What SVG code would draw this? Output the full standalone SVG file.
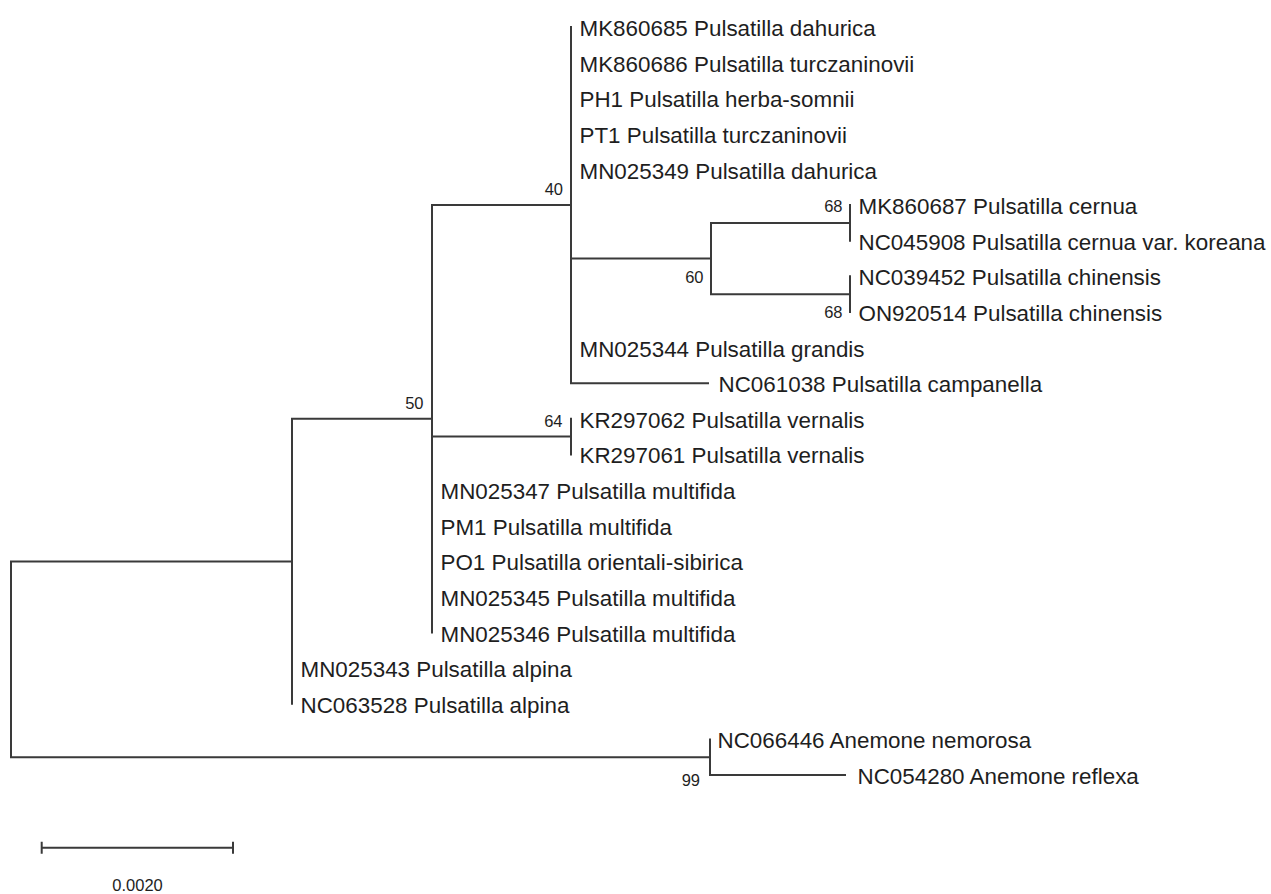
<svg xmlns="http://www.w3.org/2000/svg" width="1271" height="894" viewBox="0 0 1271 894">
<style>
  .br { fill: none; stroke: #3a3a3a; stroke-width: 2; stroke-linecap: square; }
  .lf { font-family: "Liberation Sans", Arial, sans-serif; font-size: 22.4px; fill: #1e1e1e; }
  .bs { font-family: "Liberation Sans", Arial, sans-serif; font-size: 16.5px; fill: #1e1e1e; text-anchor: end; }
  .sc { font-family: "Liberation Sans", Arial, sans-serif; font-size: 16.5px; fill: #1e1e1e; text-anchor: middle; }
</style>
<rect width="1271" height="894" fill="#ffffff"/>
<g id="connectors">
  <path class="br" d="M11,561.4 V757.2 M11,561.4 H292 M11,757.2 H710"/>
  <path class="br" d="M292,418.8 V703.8 M292,418.8 H432"/>
  <path class="br" d="M432,205.1 V632.5 M432,205.1 H571 M432,436.6 H571"/>
  <path class="br" d="M571,27 V383.2 M571,258.5 H711 M571,383.2 H708"/>
  <path class="br" d="M711,223 V294.2 M711,223 H850 M711,294.2 H850"/>
  <path class="br" d="M850,205.1 V240.7"/>
  <path class="br" d="M850,276.3 V312"/>
  <path class="br" d="M571,418.8 V454.4"/>
  <path class="br" d="M710,739.4 V775 M710,775 H845"/>
</g>
<g id="leaf-MK860685"><text class="lf" x="579.5" y="36">MK860685 Pulsatilla dahurica</text></g>
<g id="leaf-MK860686"><text class="lf" x="579.5" y="71.6">MK860686 Pulsatilla turczaninovii</text></g>
<g id="leaf-PH1"><text class="lf" x="579.5" y="107.2">PH1 Pulsatilla herba-somnii</text></g>
<g id="leaf-PT1"><text class="lf" x="579.5" y="142.9">PT1 Pulsatilla turczaninovii</text></g>
<g id="leaf-MN025349"><text class="lf" x="579.5" y="178.5">MN025349 Pulsatilla dahurica</text></g>
<g id="leaf-MK860687"><text class="lf" x="858.5" y="214.1">MK860687 Pulsatilla cernua</text></g>
<g id="leaf-NC045908"><text class="lf" x="858.5" y="249.7">NC045908 Pulsatilla cernua var. koreana</text></g>
<g id="leaf-NC039452"><text class="lf" x="858.5" y="285.3">NC039452 Pulsatilla chinensis</text></g>
<g id="leaf-ON920514"><text class="lf" x="858.5" y="321">ON920514 Pulsatilla chinensis</text></g>
<g id="leaf-MN025344"><text class="lf" x="579.5" y="356.6">MN025344 Pulsatilla grandis</text></g>
<g id="leaf-NC061038"><text class="lf" x="718.5" y="392.2">NC061038 Pulsatilla campanella</text></g>
<g id="leaf-KR297062"><text class="lf" x="579.5" y="427.8">KR297062 Pulsatilla vernalis</text></g>
<g id="leaf-KR297061"><text class="lf" x="579.5" y="463.4">KR297061 Pulsatilla vernalis</text></g>
<g id="leaf-MN025347"><text class="lf" x="440.5" y="499.1">MN025347 Pulsatilla multifida</text></g>
<g id="leaf-PM1"><text class="lf" x="440.5" y="534.7">PM1 Pulsatilla multifida</text></g>
<g id="leaf-PO1"><text class="lf" x="440.5" y="570.3">PO1 Pulsatilla orientali-sibirica</text></g>
<g id="leaf-MN025345"><text class="lf" x="440.5" y="605.9">MN025345 Pulsatilla multifida</text></g>
<g id="leaf-MN025346"><text class="lf" x="440.5" y="641.5">MN025346 Pulsatilla multifida</text></g>
<g id="leaf-MN025343"><text class="lf" x="300.5" y="677.2">MN025343 Pulsatilla alpina</text></g>
<g id="leaf-NC063528"><text class="lf" x="300.5" y="712.8">NC063528 Pulsatilla alpina</text></g>
<g id="leaf-NC066446"><text class="lf" x="717.5" y="748.4">NC066446 Anemone nemorosa</text></g>
<g id="leaf-NC054280"><text class="lf" x="857.5" y="784">NC054280 Anemone reflexa</text></g>
<g id="node-40"><text class="bs" x="563" y="194.5">40</text></g>
<g id="node-50"><text class="bs" x="423.5" y="409.3">50</text></g>
<g id="node-64"><text class="bs" x="562.5" y="426.7">64</text></g>
<g id="node-60"><text class="bs" x="703.5" y="282.7">60</text></g>
<g id="node-68a"><text class="bs" x="842.5" y="212.3">68</text></g>
<g id="node-68b"><text class="bs" x="842.5" y="318.3">68</text></g>
<g id="node-99"><text class="bs" x="700" y="786">99</text></g>
<g id="scale-bar">
  <path class="br" d="M41.7,847.7 H233 M41.7,841.7 V853.7 M233,841.7 V853.7" style="stroke-linecap:butt"/>
  <text class="sc" x="137.5" y="891">0.0020</text>
</g>
</svg>
